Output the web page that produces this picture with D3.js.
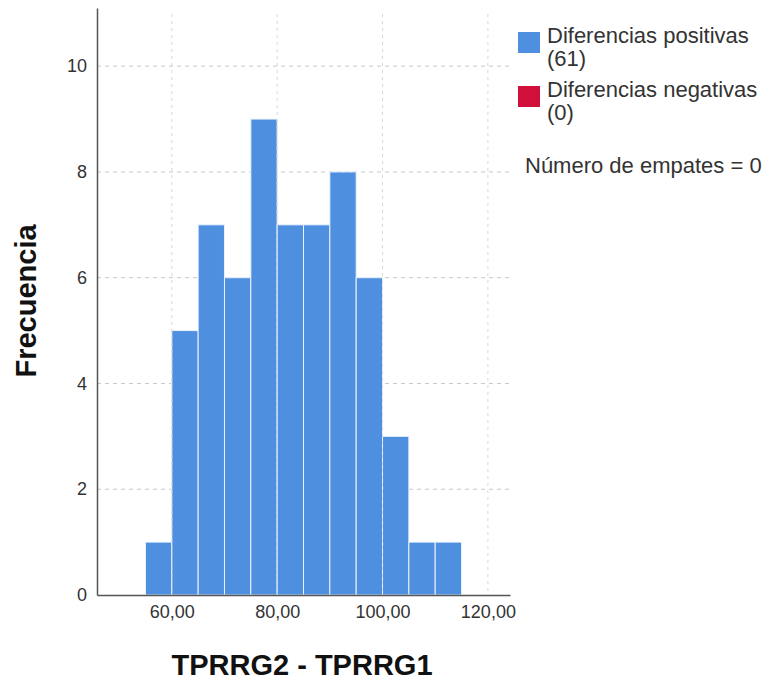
<!DOCTYPE html>
<html lang="es">
<head>
<meta charset="UTF-8">
<title>Histograma TPRRG2 - TPRRG1</title>
<style>
  html, body { margin: 0; background: #fff; }
  text { font-family: Arial, "Liberation Sans", sans-serif; fill: #333; }
  .grid line { stroke: #c8c8c8; stroke-dasharray: 4,4; }
  .vgrid line { stroke: #d8d8d8; stroke-dasharray: 3,4; }
  .axis path, .axis line { stroke: #555; }
</style>
</head>
<body>
<svg id="chart" width="774" height="686"></svg>
<script src="https://d3js.org/d3.v7.min.js"></script>
<script>
// bins of width 5 (lower edge) and their counts
const binStarts = [55, 60, 65, 70, 75, 80, 85, 90, 95, 100, 105, 110];
const counts    = [1, 5, 7, 6, 9, 7, 7, 8, 6, 3, 1, 1];
const binWidth = 5;
const xTicks = [60, 80, 100, 120];
const yTicks = [0, 2, 4, 6, 8, 10];
const legendItems = [
  {label: "Diferencias positivas", sub: "(61)", color: "#4f8fe0"},
  {label: "Diferencias negativas", sub: "(0)", color: "#d0103a"}
];
const tiesNote = "Número de empates = 0";

const svg = d3.select("#chart");
const margin = {top: 8, left: 97, right: 264, bottom: 91};
const width = 774 - margin.left - margin.right,
      height = 686 - margin.top - margin.bottom;

const x = d3.scaleLinear().domain([45.8, 124.2]).range([0, width]);
const y = d3.scaleLinear().domain([0, 11.1]).range([height, 0]);

const g = svg.append("g").attr("transform", "translate(" + margin.left + "," + margin.top + ")");

// horizontal grid (behind bars)
g.append("g").attr("class", "grid")
  .selectAll("line").data(yTicks.filter(d => d > 0)).join("line")
  .attr("x1", 0).attr("x2", width)
  .attr("y1", d => y(d)).attr("y2", d => y(d));

// bars
g.selectAll("rect.bar").data(binStarts).join("rect")
  .attr("class", "bar")
  .attr("x", d => x(d))
  .attr("width", x(binWidth) - x(0))
  .attr("y", (d, i) => y(counts[i]))
  .attr("height", (d, i) => y(0) - y(counts[i]))
  .attr("fill", "#4f8fe0")
  .attr("stroke", "#eaf2ff")
  .attr("stroke-width", 1);

// vertical grid (drawn over bars, light)
g.append("g").attr("class", "vgrid")
  .selectAll("line").data(xTicks).join("line")
  .attr("x1", d => x(d)).attr("x2", d => x(d))
  .attr("y1", 6).attr("y2", height);

// axes
const xAxis = g.append("g").attr("class", "axis")
  .attr("transform", "translate(0," + height + ")")
  .call(d3.axisBottom(x).tickValues(xTicks).tickSize(0).tickPadding(9)
    .tickFormat(d => d3.format(".2f")(d).replace(".", ",")));
xAxis.select(".domain").attr("stroke-width", 1.5);
xAxis.selectAll("text").style("font-size", "18px").attr("dy", "0.8em");

const yAxis = g.append("g").attr("class", "axis")
  .call(d3.axisLeft(y).tickValues(yTicks).tickSize(0).tickPadding(10));
yAxis.select(".domain").attr("stroke-width", 1.5);
yAxis.selectAll("text").style("font-size", "18px");

// axis titles
svg.append("text")
  .attr("transform", "translate(36,301) rotate(-90)")
  .attr("text-anchor", "middle")
  .style("font-size", "29px").style("font-weight", "bold").style("fill", "#111")
  .text("Frecuencia");

svg.append("text")
  .attr("x", 302).attr("y", 675)
  .attr("text-anchor", "middle")
  .style("font-size", "29px").style("font-weight", "bold").style("fill", "#111")
  .text("TPRRG2 - TPRRG1");

// legend
const leg = svg.append("g").attr("transform", "translate(518,32)");
legendItems.forEach((it, i) => {
  const row = leg.append("g").attr("transform", "translate(0," + i * 54 + ")");
  row.append("rect").attr("width", 22).attr("height", 21).attr("fill", it.color);
  row.append("text").attr("x", 29).attr("y", 11).style("font-size", "22px").text(it.label);
  row.append("text").attr("x", 29).attr("y", 34).style("font-size", "22px").text(it.sub);
});
svg.append("text").attr("x", 525).attr("y", 173)
  .style("font-size", "22px").text(tiesNote);
</script>
</body>
</html>
